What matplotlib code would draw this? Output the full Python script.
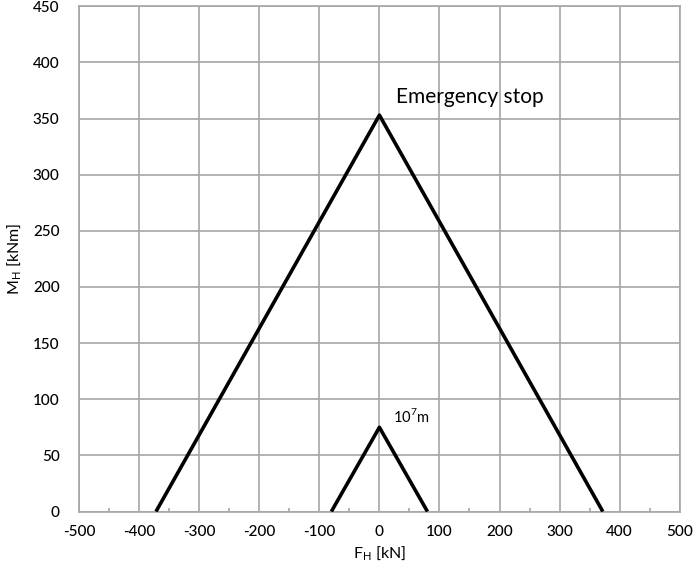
import matplotlib
matplotlib.use("Agg")
import matplotlib.pyplot as plt
from matplotlib.ticker import MultipleLocator

# Data
big_x = [-372, 0, 372]
big_y = [0, 353, 0]
small_x = [-80, 0, 80]
small_y = [0, 75, 0]
xticks = list(range(-500, 501, 100))
yticks = list(range(0, 451, 50))

plt.rcParams['font.family'] = ['Lato', 'DejaVu Sans']
plt.rcParams['axes.unicode_minus'] = False

fig = plt.figure(figsize=(7, 5.64), dpi=100)
ax = fig.add_axes([0.113, 0.093, 0.858, 0.896])

ax.plot(big_x, big_y, color='black', lw=2.6, solid_capstyle='butt', zorder=3)
ax.plot(small_x, small_y, color='black', lw=2.6, solid_capstyle='butt', zorder=3)

ax.set_xlim(-500, 500)
ax.set_ylim(0, 450)
ax.set_xticks(xticks)
ax.set_yticks(yticks)
ax.xaxis.set_minor_locator(MultipleLocator(50))
ax.grid(True, which='major', color='#a6a6a6', lw=1.2)
ax.tick_params(axis='x', which='major', length=0, pad=10, labelsize=11)
ax.tick_params(axis='x', which='minor', length=3, direction='in', color='#a6a6a6', width=1.2)
ax.tick_params(axis='y', which='major', length=0, pad=14, labelsize=11)
for lab in ax.get_xticklabels() + ax.get_yticklabels():
    lab.set_fontweight('medium')
for s in ax.spines.values():
    s.set_color('#a6a6a6')
    s.set_linewidth(1.2)

ax.set_xlabel('F$_\\mathregular{H}$ [kN]', fontsize=11.5, labelpad=4)
ax.set_ylabel('M$_\\mathregular{H}$ [kNm]', fontsize=11.5, labelpad=6)

ax.text(28, 369, 'Emergency stop', fontsize=15, va='center', ha='left')
ax.text(22, 85, '10$^\\mathregular{7}$m', fontsize=10.5, va='center', ha='left')

fig.savefig('out.png', dpi=100)
